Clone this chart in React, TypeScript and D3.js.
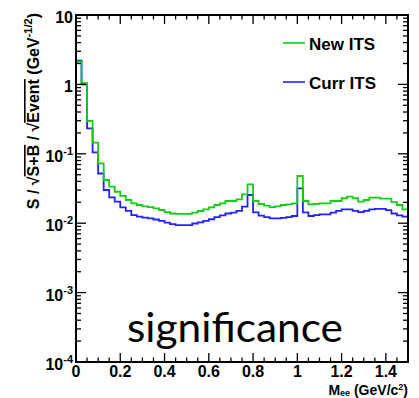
import React from "react";
import * as d3 from "d3";

// 60 bins of 25 MeV from 0 to 1.5 GeV/c^2
const binEdges = [0, 1.5];
const binCount = 60;

const newIts = [
  2.12, 1.04, 0.297, 0.145, 0.073, 0.0419, 0.0336, 0.0284, 0.0247, 0.0216,
  0.0193, 0.0183, 0.0175, 0.017, 0.0163, 0.0155, 0.0144, 0.0138, 0.0136, 0.0136,
  0.0136, 0.0142, 0.015, 0.0158, 0.0169, 0.0183, 0.0193, 0.0209, 0.0209, 0.0221,
  0.0261, 0.0363, 0.0209, 0.0189, 0.0179, 0.0171, 0.0175, 0.0183, 0.0187, 0.0193,
  0.0479, 0.0209, 0.0187, 0.019, 0.0193, 0.0193, 0.0209, 0.0209, 0.0229, 0.0241,
  0.0229, 0.0204, 0.0216, 0.0233, 0.0233, 0.0226, 0.0226, 0.0201, 0.0183, 0.0158,
];

const currIts = [
  2.2, 1.0, 0.232, 0.105, 0.052, 0.0301, 0.0236, 0.0204, 0.0169, 0.0151,
  0.0131, 0.0124, 0.012, 0.0117, 0.0113, 0.0108, 0.0102, 0.0097, 0.0094, 0.0094,
  0.0094, 0.0099, 0.0103, 0.0108, 0.0114, 0.0122, 0.013, 0.0138, 0.0142, 0.0151,
  0.0173, 0.0255, 0.0143, 0.0129, 0.0122, 0.0117, 0.0117, 0.0119, 0.0122, 0.0127,
  0.0318, 0.0143, 0.0127, 0.0131, 0.0134, 0.0134, 0.0142, 0.0151, 0.0158, 0.0158,
  0.0151, 0.0144, 0.0151, 0.0158, 0.0161, 0.0161, 0.0154, 0.0138, 0.013, 0.0124,
];

const xTicks = [0, 0.2, 0.4, 0.6, 0.8, 1, 1.2, 1.4];
const xTickLabels = ["0", "0.2", "0.4", "0.6", "0.8", "1", "1.2", "1.4"];
const yDecades = [-4, -3, -2, -1, 0, 1];
const yDomain = [1e-4, 10];

const legendItems = [
  { label: "New ITS", color: "#16cc16" },
  { label: "Curr ITS", color: "#2222ff" },
];

const FONT = "'Liberation Sans', Arial, Helvetica, sans-serif";

const left = 76;
const right = 408;
const top = 15;
const bottom = 362;

export default function App() {
  const x = d3.scaleLinear().domain(binEdges).range([left, right]);
  const y = d3.scaleLog().domain(yDomain).range([bottom, top]);
  const bw = (binEdges[1] - binEdges[0]) / binCount;

  const stepPath = (vals: number[]) => {
    const pts: [number, number][] = [];
    vals.forEach((v, i) => {
      pts.push([x(i * bw), y(v)]);
      pts.push([x((i + 1) * bw), y(v)]);
    });
    return d3.line()(pts) as string;
  };

  // log ticks
  const yMajor = yDecades.map((d) => Math.pow(10, d));
  const yMinor: number[] = [];
  yDecades.slice(0, -1).forEach((d) => {
    for (let k = 2; k <= 9; k++) yMinor.push(k * Math.pow(10, d));
  });
  const xMinor = d3
    .range(0, 31)
    .map((i) => i * 0.05)
    .filter((v) => Math.abs(v / 0.2 - Math.round(v / 0.2)) > 1e-6);

  const tickW = 1.3;

  return (
    <div style={{ position: "absolute", left: 0, top: 0 }}>
      <svg width={419} height={398} style={{ display: "block", background: "#fff" }}>
        {/* histograms */}
        <path d={stepPath(currIts)} fill="none" stroke={legendItems[1].color} strokeWidth={1.8} />
        <path d={stepPath(newIts)} fill="none" stroke={legendItems[0].color} strokeWidth={1.8} />

        {/* frame */}
        <rect x={left} y={top} width={right - left} height={bottom - top} fill="none" stroke="#000" strokeWidth={2} />

        {/* y ticks, left and right */}
        {yMajor.map((v) => (
          <g key={"ym" + v}>
            <line x1={left} x2={left + 10} y1={y(v)} y2={y(v)} stroke="#000" strokeWidth={tickW} />
            <line x1={right} x2={right - 10} y1={y(v)} y2={y(v)} stroke="#000" strokeWidth={tickW} />
          </g>
        ))}
        {yMinor.map((v) => (
          <g key={"yn" + v}>
            <line x1={left} x2={left + 5} y1={y(v)} y2={y(v)} stroke="#000" strokeWidth={tickW} />
            <line x1={right} x2={right - 5} y1={y(v)} y2={y(v)} stroke="#000" strokeWidth={tickW} />
          </g>
        ))}

        {/* x ticks, bottom and top */}
        {xTicks.map((v) => (
          <g key={"xm" + v}>
            <line x1={x(v)} x2={x(v)} y1={bottom} y2={bottom - 9} stroke="#000" strokeWidth={tickW} />
            <line x1={x(v)} x2={x(v)} y1={top} y2={top + 9} stroke="#000" strokeWidth={tickW} />
          </g>
        ))}
        {xMinor.map((v) => (
          <g key={"xn" + v}>
            <line x1={x(v)} x2={x(v)} y1={bottom} y2={bottom - 4.5} stroke="#000" strokeWidth={tickW} />
            <line x1={x(v)} x2={x(v)} y1={top} y2={top + 4.5} stroke="#000" strokeWidth={tickW} />
          </g>
        ))}

        {/* x tick labels */}
        {xTicks.map((v, i) => (
          <text key={"xl" + v} x={x(v)} y={377} textAnchor="middle" fontFamily={FONT} fontWeight="bold" fontSize={16}>
            {xTickLabels[i]}
          </text>
        ))}

        {/* y tick labels */}
        {yDecades.map((d) => (
          <text key={"yl" + d} x={73} y={y(Math.pow(10, d)) + 8} textAnchor="end" fontFamily={FONT} fontWeight="bold" fontSize={16}>
            {d === 0 ? "1" : "10"}
            {d < 0 ? <tspan fontSize={11} dy={-7}>{String(d)}</tspan> : null}
          </text>
        ))}

        {/* x title */}
        <text x={408} y={395} textAnchor="end" fontFamily={FONT} fontWeight="bold" fontSize={14}>
          M<tspan fontSize={9} dy={1}>ee</tspan>
          <tspan dy={-1}> (GeV/c</tspan>
          <tspan fontSize={9} dy={-5}>2</tspan>
          <tspan dy={5}>)</tspan>
        </text>

        {/* y title */}
        <text transform="translate(39,13) rotate(-90)" textAnchor="end" fontFamily={FONT} fontWeight="bold" fontSize={16}>
          {"S / \u221A"}
          <tspan style={{ textDecoration: "overline" }}>S+B</tspan>
          {" / \u221A"}
          <tspan style={{ textDecoration: "overline" }}>Event</tspan>
          {" (GeV"}
          <tspan fontSize={11} dy={-7}>-1/2</tspan>
          <tspan dy={7}>)</tspan>
        </text>

        {/* legend */}
        {legendItems.map((item, i) => (
          <g key={item.label} transform={`translate(0, ${43 + i * 39})`}>
            <line x1={283} x2={305} y1={0} y2={0} stroke={item.color} strokeWidth={2} opacity={0.8} />
            <text x={309} y={7} fontFamily={FONT} fontWeight="bold" fontSize={17}>
              {item.label}
            </text>
          </g>
        ))}

        {/* annotation */}
        <text x={127} y={342} fontFamily="Lato, 'Open Sans', sans-serif" fontSize={40} textLength={216} lengthAdjust="spacingAndGlyphs">
          significance
        </text>
      </svg>
    </div>
  );
}
